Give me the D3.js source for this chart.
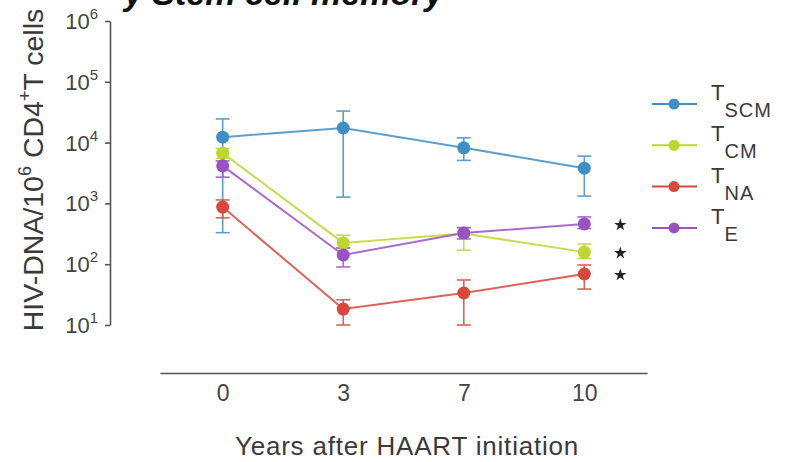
<!DOCTYPE html>
<html>
<head>
<meta charset="utf-8">
<script src="https://cdn.jsdelivr.net/npm/d3@7"></script>
<style>
  html, body { margin: 0; padding: 0; background: #fff; }
  svg { display: block; font-family: "Liberation Sans", Arial, sans-serif; }
</style>
</head>
<body>
<svg id="chart" width="798" height="462"></svg>
<script>
// Years after treatment start (categorical positions)
const years = ["0", "3", "7", "10"];

// HIV-DNA copies per 10^6 CD4+ T cells, by subset
const seriesNames = ["TSCM", "TCM", "TNA", "TE"];
const seriesSubs  = ["SCM", "CM", "NA", "E"];
const seriesColors = ["#3f8fc6", "#bdd630", "#d8473c", "#9a52c2"];

const tscmValues = [12300, 17400, 8200, 3800];
const tscmHigh   = [24500, 33000, 12000, 6000];
const tscmLow    = [330, 1270, 5100, 1320];

const tcmValues = [6700, 224, 320, 158];
const tcmHigh   = [8000, 300, 400, 215];
const tcmLow    = [5500, 185, 170, 125];

const tnaValues = [870, 18.3, 33.6, 69];
const tnaHigh   = [1140, 26, 55, 97];
const tnaLow    = [580, 10, 10, 39];

const teValues = [4150, 142, 325, 460];
const teHigh   = [5000, 185, 400, 600];
const teLow    = [2700, 90, 260, 385];

// Series flagged as significant at the last time point
const starred = ["TE", "TCM", "TNA"];

const yTicks = [10, 100, 1000, 10000, 100000, 1000000];

const series = seriesNames.map((name, i) => ({
  name,
  values: [tscmValues, tcmValues, tnaValues, teValues][i],
  hi: [tscmHigh, tcmHigh, tnaHigh, teHigh][i],
  lo: [tscmLow, tcmLow, tnaLow, teLow][i],
  color: seriesColors[i],
  sub: seriesSubs[i]
}));

const svg = d3.select("#chart");
const axisColor = "#555";
const textColor = "#3a3a3a";

const x = d3.scalePoint().domain(years).range([160, 647]).padding(0.52);
const y = d3.scaleLog().domain([10, 1e6]).range([325, 21]);

// Panel heading running off the top edge
svg.append("text")
  .attr("x", 124).attr("y", 5)
  .attr("font-size", 34).attr("font-weight", "bold").attr("font-style", "italic")
  .attr("fill", "#111")
  .text("y Stem cell memory");

// Y axis
const yAxis = svg.append("g")
  .attr("transform", "translate(110,0)")
  .call(d3.axisLeft(y).tickValues(yTicks).tickFormat("").tickSize(5).tickSizeOuter(0));
yAxis.select(".domain").attr("stroke", axisColor).attr("stroke-width", 1.6);
yAxis.selectAll(".tick line").attr("stroke", axisColor).attr("stroke-width", 1.6);

const tickLabels = svg.append("g").attr("fill", "#444");
yTicks.forEach(v => {
  const t = tickLabels.append("text")
    .attr("x", 98).attr("y", y(v) + 8)
    .attr("text-anchor", "end")
    .attr("font-size", 22);
  t.append("tspan").text("10");
  t.append("tspan").attr("font-size", 15).attr("dy", -10).text(Math.round(Math.log10(v)));
});

// Y axis title
const yTitle = svg.append("text")
  .attr("transform", "translate(43,170) rotate(-90)")
  .attr("text-anchor", "middle")
  .attr("font-size", 28.5)
  .attr("fill", textColor);
yTitle.append("tspan").text("HIV-DNA/10");
yTitle.append("tspan").attr("font-size", 18).attr("dy", -12).text("6");
yTitle.append("tspan").attr("dy", 12).text(" CD4");
yTitle.append("tspan").attr("font-size", 18).attr("dy", -12).text("+");
yTitle.append("tspan").attr("dy", 12).text("T cells");

// X axis (detached baseline, no ticks)
const xAxis = svg.append("g")
  .attr("transform", "translate(0,373)")
  .call(d3.axisBottom(x).tickSize(0).tickSizeOuter(0).tickPadding(12));
xAxis.select(".domain").attr("stroke", axisColor).attr("stroke-width", 1.6);
xAxis.selectAll(".tick text")
  .attr("font-size", 23).attr("fill", "#444")
  .attr("font-family", "Liberation Sans, Arial, sans-serif");

svg.append("text")
  .attr("x", 407).attr("y", 455)
  .attr("text-anchor", "middle")
  .attr("font-size", 26).attr("letter-spacing", 0.8).attr("fill", textColor)
  .text("Years after HAART initiation");

// Error bars
const capHalf = 7;
series.forEach(s => {
  const g = svg.append("g")
    .attr("stroke", s.color).attr("stroke-width", 1.6).attr("opacity", 0.85);
  years.forEach((yr, i) => {
    const cx = x(yr);
    g.append("line").attr("x1", cx).attr("x2", cx)
      .attr("y1", y(s.lo[i])).attr("y2", y(s.hi[i]));
    g.append("line").attr("x1", cx - capHalf).attr("x2", cx + capHalf)
      .attr("y1", y(s.hi[i])).attr("y2", y(s.hi[i]));
    g.append("line").attr("x1", cx - capHalf).attr("x2", cx + capHalf)
      .attr("y1", y(s.lo[i])).attr("y2", y(s.lo[i]));
  });
});

// Lines and markers
const line = d3.line().x((d, i) => x(years[i])).y(d => y(d));
series.forEach(s => {
  svg.append("path")
    .datum(s.values)
    .attr("d", line)
    .attr("fill", "none")
    .attr("stroke", s.color)
    .attr("stroke-width", 2)
    .attr("opacity", 0.85);
});
series.forEach(s => {
  svg.append("g").selectAll("circle")
    .data(s.values)
    .join("circle")
    .attr("cx", (d, i) => x(years[i]))
    .attr("cy", d => y(d))
    .attr("r", 6.5)
    .attr("fill", s.color);
});

// Significance stars beside the final time point
const star = d3.symbol().type(d3.symbolStar).size(48);
series.filter(s => starred.includes(s.name)).forEach(s => {
  svg.append("path")
    .attr("d", star())
    .attr("transform", `translate(${x(years[years.length - 1]) + 36},${y(s.values[s.values.length - 1]) + 1})`)
    .attr("fill", "#222");
});

// Legend
const legend = svg.append("g");
series.forEach((s, i) => {
  const ly = 104 + i * 41.3;
  legend.append("line")
    .attr("x1", 652).attr("x2", 697).attr("y1", ly).attr("y2", ly)
    .attr("stroke", s.color).attr("stroke-width", 2);
  legend.append("circle")
    .attr("cx", 674).attr("cy", ly).attr("r", 5.5).attr("fill", s.color);
  const t = legend.append("text")
    .attr("x", 711).attr("y", ly - 4)
    .attr("font-size", 22).attr("fill", textColor);
  t.append("tspan").text("T");
  t.append("tspan").attr("font-size", 20).attr("dy", 17).attr("dx", 0)
    .attr("letter-spacing", 1).text(s.sub);
});
</script>
</body>
</html>
